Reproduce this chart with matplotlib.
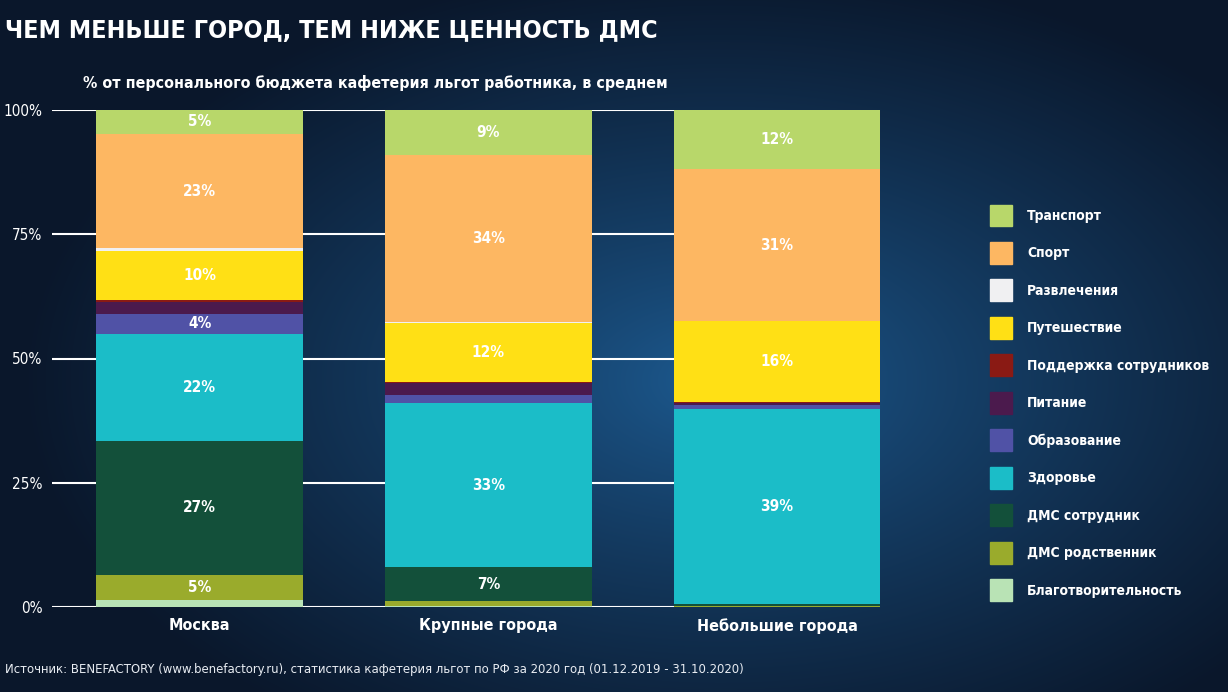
import numpy as np
import matplotlib.pyplot as plt
from matplotlib.patches import Patch

plt.rcParams["font.family"] = ["DejaVu Sans"]
plt.rcParams["font.stretch"] = "condensed"

# data: share of personal benefit budget, %
cities = ["Москва", "Крупные города", "Небольшие города"]
categories = ["Благотворительность", "ДМС родственник", "ДМС сотрудник", "Здоровье",
              "Образование", "Питание", "Поддержка сотрудников", "Путешествие",
              "Развлечения", "Спорт", "Транспорт"]
moscow = [1.5, 5.0, 27.0, 21.5, 4.0, 2.3, 0.4, 10.0, 0.5, 23.0, 4.8]
large = [0.3, 0.9, 6.8, 33.0, 1.6, 2.4, 0.3, 11.9, 0.1, 33.7, 9.0]
small = [0.1, 0.1, 0.4, 39.2, 0.8, 0.4, 0.2, 16.3, 0.0, 30.6, 11.9]
yticks = [0, 25, 50, 75, 100]

colors = ["#b9e3b5", "#9aab2c", "#13503a", "#1bbdc8", "#5052a6", "#4b1a4d",
          "#8a1a14", "#ffe015", "#f0f0f2", "#fdb762", "#b8d76a"]

values = np.array([moscow, large, small]).T

fig = plt.figure(figsize=(12.28, 6.92), dpi=100)

# background gradient
bg = fig.add_axes([0, 0, 1, 1], zorder=-10)
yy, xx = np.mgrid[0:692, 0:1228]
d = np.sqrt(((xx - 720) / 700.0) ** 2 + ((yy - 380) / 420.0) ** 2)
t = np.clip(d, 0, 1) ** 0.8
c0 = np.array([0x1d, 0x5c, 0x93]) / 255
c1 = np.array([0x0a, 0x17, 0x2b]) / 255
img = c0[None, None, :] * (1 - t[..., None]) + c1[None, None, :] * t[..., None]
bg.imshow(img, aspect="auto", extent=[0, 1, 0, 1])
bg.axis("off")

ax = fig.add_axes([52 / 1228, 1 - 607 / 692, (880 - 52) / 1228, (607 - 110) / 692])
ax.patch.set_alpha(0)

x = np.arange(len(cities))
bottom = np.zeros(len(cities))
handles = []
for cat, vals, col in zip(categories, values, colors):
    ax.bar(x, vals, bottom=bottom, width=0.716, color=col, zorder=3)
    handles.append(Patch(color=col, label=cat))
    for xi, v, b in zip(x, vals, bottom):
        if v >= 3.5:
            ax.text(xi, b + v / 2, f"{round(v)}%", ha="center", va="center",
                    color="white", fontsize=11, fontweight="bold", zorder=4)
    bottom += vals

ax.set_xlim(-0.512, 2.357)
ax.set_ylim(0, 100)
for yv in yticks:
    ax.axhline(yv, color="white", lw=1.5, zorder=1)
ax.set_yticks(yticks)
ax.set_yticklabels([f"{v}%" for v in yticks], color="white", fontsize=11)
ax.tick_params(axis="y", length=0, pad=7)
ax.set_xticks(x)
ax.set_xticklabels(cities, color="white", fontsize=11.5, fontweight="bold")
ax.tick_params(axis="x", length=0, pad=8)
for s in ax.spines.values():
    s.set_visible(False)

fig.legend(handles[::-1], categories[::-1], loc="upper left",
           bbox_to_anchor=(977 / 1228, 1 - 192 / 692), frameon=False,
           handlelength=1.6, handleheight=2.05, labelspacing=1.12,
           handletextpad=1.1, labelcolor="white",
           prop={"size": 10, "weight": "bold", "stretch": "condensed"})

fig.text(5 / 1228, 1 - 31 / 692, "ЧЕМ МЕНЬШЕ ГОРОД, ТЕМ НИЖЕ ЦЕННОСТЬ ДМС",
         color="white", fontsize=18, fontweight="bold", va="center")
fig.text(83 / 1228, 1 - 83 / 692,
         "% от персонального бюджета кафетерия льгот работника, в среднем",
         color="white", fontsize=11.4, fontweight="bold", va="center")
fig.text(5 / 1228, 1 - 670 / 692,
         "Источник: BENEFACTORY (www.benefactory.ru), статистика кафетерия льгот по РФ за 2020 год (01.12.2019 - 31.10.2020)",
         color="#e8ecf2", fontsize=9.4, va="center")

fig.savefig("out.png", dpi=100)
